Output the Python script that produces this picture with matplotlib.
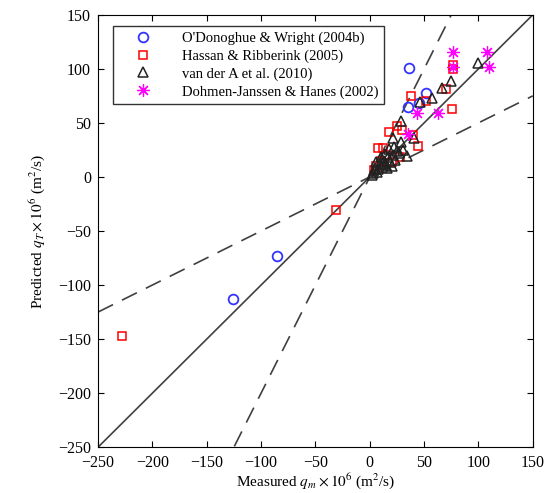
import matplotlib.pyplot as plt
import numpy as np

plt.rcParams['font.family'] = 'Liberation Serif'
plt.rcParams['mathtext.fontset'] = 'stix'
plt.rcParams['axes.unicode_minus'] = True

# O'Donoghue & Wright (2004b)
odw_x = [-126, -85, 36, 52, 35, 45]
odw_y = [-113, -73, 101, 78, 65, 68]

# Hassan & Ribberink (2005)
hr_x = [-228, -31, 77, 77, 76, 70, 52, 38, 44, 40, 18, 25, 30, 8, 12, 28, 6, 15, 20, 10, 4]
hr_y = [-147, -31, 104, 100, 63, 81, 70, 75, 29, 39, 42, 47, 43, 27, 27, 18, 10, 20, 14, 15, 6]

# van der A et al. (2010)
va_x = [100, 75, 66, 57, 46, 29, 21, 29, 41, 34, 3, 5, 7, 9, 11, 13, 15, 17, 19, 21, 23, 25, 6, 10, 14,
        18, 22, 8, 12, 16, 20, 2, 4, 27, 31]
va_y = [105, 89, 82, 73, 69, 52, 36, 32, 36, 19, 4, 8, 5, 12, 9, 15, 11, 18, 14, 20, 16, 24, 14, 18, 21,
        26, 28, 7, 13, 8, 10, 2, 6, 22, 25]

# Dohmen-Janssen & Hanes (2002)
dh_x = [77, 108, 77, 110, 43, 63, 35]
dh_y = [116, 116, 102, 102, 59, 59, 40]

fig = plt.figure(figsize=(5.51, 4.93), dpi=100)
ax = fig.add_axes([0.178, 0.093, 0.789, 0.877])

line = np.array([-250, 150])
ax.plot(line, line, color='#404040', lw=1.2)
ax.plot(line, 2 * line, color='#404040', lw=1.2, dashes=(10, 6))
ax.plot(line, 0.5 * line, color='#404040', lw=1.2, dashes=(10, 6))

ax.plot(odw_x, odw_y, 'o', mfc='none', mec='#3333ff', mew=1.3, ms=7, label="O'Donoghue & Wright (2004b)")
ax.plot(hr_x, hr_y, 's', mfc='none', mec='red', mew=1.1, ms=5.5, label='Hassan & Ribberink (2005)')
ax.plot(va_x, va_y, '^', mfc='none', mec='#222222', mew=1.1, ms=7, label='van der A et al. (2010)')
ax.plot(dh_x, dh_y, marker=(8, 2, 0), ls='none', color='magenta', mec='magenta', ms=9, mew=0.9,
        label='Dohmen-Janssen & Hanes (2002)')

ax.set_xlim(-250, 150)
ax.set_ylim(-250, 150)
ax.set_xticks(np.arange(-250, 151, 50))
ax.set_yticks(np.arange(-250, 151, 50))
ax.tick_params(direction='in', top=True, right=True, labelsize=11.5, length=4)
ax.tick_params(axis='x', pad=6)
ax.tick_params(axis='y', pad=5)

ax.set_xlabel(r'Measured $q_m \times 10^6$ (m$^2$/s)', fontsize=11, labelpad=0)
ax.set_ylabel(r'Predicted $q_T \times 10^6$ (m$^2$/s)', fontsize=11, labelpad=8)

leg = ax.legend(loc='upper left', bbox_to_anchor=(0.018, 0.99), fontsize=10.5, frameon=True,
                fancybox=False, edgecolor='black', handlelength=3.4, labelspacing=0.3,
                borderpad=0.35, handletextpad=1.0)
leg.get_frame().set_linewidth(1.0)

plt.savefig('out.png', dpi=100)
